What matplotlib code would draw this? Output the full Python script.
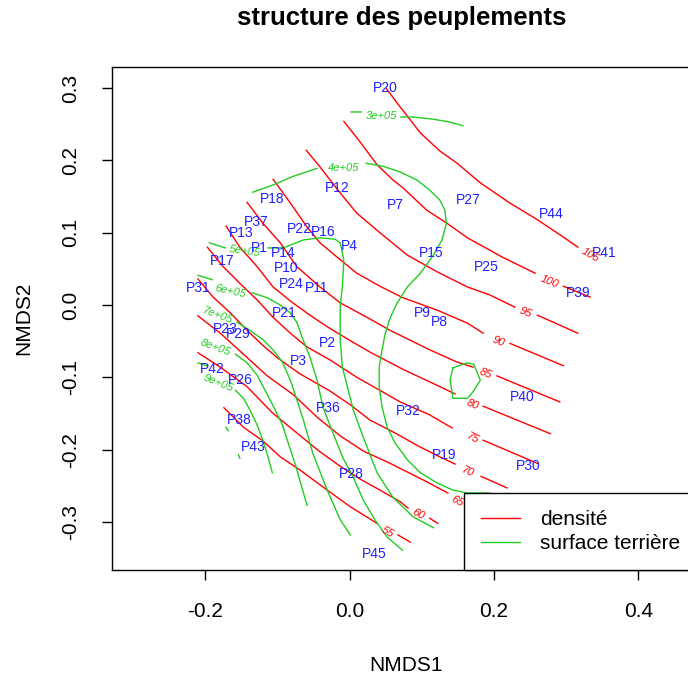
import numpy as np
import matplotlib

matplotlib.use("Agg")
import matplotlib.pyplot as plt  # noqa: E402

nan = np.nan

# site scores (NMDS1, NMDS2)
site_names = ["P20", "P12", "P7", "P27", "P44", "P18", "P37", "P13", "P22", "P16",
              "P4", "P1", "P14", "P15", "P41", "P17", "P10", "P25", "P24", "P11",
              "P31", "P39", "P9", "P8", "P21", "P23", "P29", "P2", "P3", "P42",
              "P26", "P40", "P36", "P32", "P38", "P43", "P19", "P30", "P28", "P45"]
site_x = [0.049, -0.017, 0.064, 0.165, 0.279, -0.107, -0.129, -0.150, -0.070, -0.037,
          -0.001, -0.125, -0.092, 0.113, 0.352, -0.176, -0.088, 0.190, -0.081, -0.045,
          -0.210, 0.316, 0.100, 0.125, -0.091, -0.172, -0.154, -0.031, -0.071, -0.190,
          -0.152, 0.239, -0.030, 0.081, -0.153, -0.134, 0.131, 0.247, 0.002, 0.034]
site_y = [0.300, 0.162, 0.138, 0.145, 0.126, 0.147, 0.115, 0.100, 0.105, 0.101,
          0.082, 0.079, 0.072, 0.072, 0.072, 0.061, 0.051, 0.053, 0.029, 0.024,
          0.024, 0.017, -0.011, -0.024, -0.011, -0.033, -0.040, -0.053, -0.078, -0.089,
          -0.104, -0.127, -0.142, -0.147, -0.159, -0.197, -0.207, -0.223, -0.234, -0.344]

# density contours (nan = gap left for the label)
d105_x = [0.051, 0.070, 0.098, 0.125, 0.149, 0.181, 0.222, 0.260, 0.296, 0.316]
d105_y = [0.299, 0.274, 0.238, 0.213, 0.196, 0.169, 0.141, 0.118, 0.094, 0.080]
d100_x = [-0.008, 0.015, 0.038, 0.060, 0.074, 0.107, 0.135, 0.163, 0.212, 0.257, nan, 0.296, 0.333]
d100_y = [0.254, 0.225, 0.194, 0.173, 0.162, 0.131, 0.113, 0.093, 0.066, 0.044, nan, 0.026, 0.011]
d95_x = [-0.060, -0.041, -0.013, 0.010, 0.042, 0.080, 0.121, 0.163, 0.194, 0.229, nan, 0.260, 0.316]
d95_y = [0.214, 0.191, 0.155, 0.127, 0.100, 0.069, 0.046, 0.025, 0.014, -0.003, nan, -0.014, -0.039]
d90_x = [-0.106, -0.082, -0.059, -0.041, -0.017, 0.010, 0.042, 0.074, 0.121, 0.163, 0.185, nan, 0.222, 0.296]
d90_y = [0.174, 0.141, 0.108, 0.086, 0.066, 0.044, 0.026, 0.010, -0.007, -0.025, -0.039, nan, -0.053, -0.084]
d85_x = [-0.142, -0.120, -0.096, -0.073, -0.041, -0.013, 0.024, 0.056, 0.111, 0.149, 0.171, nan, 0.204, 0.291]
d85_y = [0.142, 0.113, 0.086, 0.053, 0.025, 0.003, -0.017, -0.035, -0.062, -0.079, -0.086, nan, -0.098, -0.134]
d80_x = [-0.171, -0.152, -0.128, -0.106, -0.080, -0.055, -0.031, -0.003, 0.028, 0.074, 0.121, 0.146, nan, 0.185, 0.278]
d80_y = [0.109, 0.080, 0.053, 0.025, 0.004, -0.014, -0.030, -0.047, -0.065, -0.089, -0.111, -0.123, nan, -0.140, -0.178]
d75_x = [-0.197, -0.175, -0.152, -0.128, -0.106, -0.082, -0.059, -0.027, 0.010, 0.042, 0.070, 0.111, 0.142, nan, 0.185, 0.260]
d75_y = [0.080, 0.053, 0.030, 0.007, -0.017, -0.039, -0.058, -0.076, -0.100, -0.118, -0.134, -0.152, -0.170, nan, -0.187, -0.219]
d70_x = [-0.210, -0.189, -0.165, -0.142, -0.121, -0.100, -0.069, -0.027, 0.001, 0.028, 0.063, 0.095, 0.125, 0.146, nan, 0.182, 0.218]
d70_y = [0.036, 0.011, -0.011, -0.035, -0.055, -0.073, -0.095, -0.119, -0.138, -0.159, -0.177, -0.195, -0.210, -0.220, nan, -0.237, -0.253]
d65_x = [-0.210, -0.179, -0.147, -0.114, -0.078, -0.044, -0.013, 0.019, 0.052, 0.080, 0.104, 0.136, nan, 0.163, 0.170]
d65_y = [-0.015, -0.039, -0.068, -0.098, -0.124, -0.156, -0.181, -0.202, -0.217, -0.231, -0.243, -0.260, nan, -0.275, -0.278]
d60_x = [-0.210, -0.179, -0.142, -0.107, -0.073, -0.041, -0.013, 0.015, 0.042, 0.070, 0.081, nan, 0.111, 0.122]
d60_y = [-0.066, -0.086, -0.113, -0.149, -0.177, -0.203, -0.223, -0.241, -0.256, -0.272, -0.281, nan, -0.295, -0.302]
d55_x = [-0.174, -0.147, -0.120, -0.096, -0.069, -0.031, 0.001, 0.038, nan, 0.067, 0.084]
d55_y = [-0.142, -0.169, -0.188, -0.210, -0.228, -0.256, -0.279, -0.302, nan, -0.318, -0.328]

dens_levels = ["105", "100", "95", "90", "85", "80", "75", "70", "65", "60", "55"]
dens_lab_x = [0.333, 0.277, 0.243, 0.206, 0.188, 0.170, 0.170, 0.164, 0.149, 0.095, 0.053]
dens_lab_y = [0.069, 0.032, -0.011, -0.051, -0.095, -0.137, -0.184, -0.231, -0.271, -0.290, -0.314]
dens_lab_rot = [-30, -22, -22, -22, -22, -22, -28, -24, -28, -28, -28]

# basal area (surface terriere) contours
s3_x = [0.002, 0.016, nan, 0.071, 0.088, 0.116, 0.139, 0.157]
s3_y = [0.267, 0.267, nan, 0.260, 0.260, 0.257, 0.253, 0.248]
s4_x = [-0.134, -0.106, -0.078, -0.045, nan, 0.023, 0.046, 0.070, 0.093, 0.111, 0.125, 0.132,
        0.134, 0.128, 0.116, 0.098, 0.080, 0.066, 0.056, 0.049, 0.045, 0.041, 0.041, 0.045,
        0.052, 0.063, 0.080, 0.098, 0.121, 0.143, 0.163, 0.194]
s4_y = [0.156, 0.166, 0.178, 0.189, nan, 0.196, 0.192, 0.184, 0.173, 0.159, 0.145, 0.131,
        0.113, 0.090, 0.069, 0.044, 0.025, 0.003, -0.018, -0.041, -0.062, -0.086, -0.113, -0.141,
        -0.169, -0.191, -0.214, -0.232, -0.246, -0.256, -0.260, -0.260]
s4b_x = [0.143, 0.163, 0.172, 0.181, 0.171, 0.163, 0.143, 0.141, 0.139, 0.143]
s4b_y = [-0.087, -0.080, -0.082, -0.104, -0.120, -0.129, -0.129, -0.115, -0.104, -0.087]
s5_x = [-0.194, -0.172, nan, -0.113, -0.092, -0.064, -0.041, -0.020, -0.013, -0.008, -0.009,
        -0.010, -0.013, -0.013, -0.010, -0.003, 0.005, 0.019, 0.038, 0.060, 0.088, 0.116]
s5_y = [0.086, 0.079, nan, 0.079, 0.079, 0.090, 0.093, 0.091, 0.086, 0.062, 0.044,
        0.025, -0.003, -0.048, -0.086, -0.113, -0.145, -0.183, -0.232, -0.266, -0.293, -0.308]
s6_x = [-0.210, -0.190, nan, -0.135, -0.114, -0.096, -0.082, -0.073, -0.066, -0.055, -0.045,
        -0.037, -0.023, -0.009, 0.005, 0.019, 0.035, 0.052, 0.073]
s6_y = [0.041, 0.035, nan, 0.017, 0.010, 0.000, -0.011, -0.024, -0.044, -0.072, -0.104,
        -0.141, -0.177, -0.212, -0.238, -0.270, -0.297, -0.321, -0.339]
s7_x = [-0.156, -0.138, -0.120, -0.106, -0.093, -0.082, -0.073, -0.064, -0.051, -0.031, -0.013, 0.001]
s7_y = [-0.024, -0.035, -0.048, -0.062, -0.079, -0.104, -0.131, -0.159, -0.205, -0.256, -0.297, -0.318]
s8_x = [-0.158, -0.142, -0.128, -0.116, -0.103, -0.093, -0.084, -0.075, -0.067, -0.059]
s8_y = [-0.068, -0.080, -0.097, -0.120, -0.145, -0.166, -0.194, -0.221, -0.249, -0.277]
s9_x = [-0.210, -0.197, nan, -0.158, -0.147, -0.138, -0.128, -0.120, -0.113, -0.107]
s9_y = [-0.080, -0.084, nan, -0.118, -0.129, -0.145, -0.166, -0.187, -0.210, -0.232]
s10_x = [-0.171, -0.168, nan, -0.154, -0.152]
s10_y = [-0.169, -0.174, nan, -0.207, -0.212]

surf_levels = ["3e+05", "4e+05", "5e+05", "6e+05", "7e+05", "8e+05", "9e+05"]
surf_lab_x = [0.044, -0.008, -0.145, -0.165, -0.183, -0.186, -0.182]
surf_lab_y = [0.261, 0.189, 0.075, 0.019, -0.014, -0.059, -0.108]
surf_lab_rot = [0, 0, -8, -12, -20, -20, -22]

RED = "#FF0000"
GREEN = "#22CC22"
BLUE = "#2020FF"

plt.rcParams["font.family"] = ["Liberation Sans", "DejaVu Sans"]
plt.rcParams["axes.unicode_minus"] = False

fig = plt.figure(figsize=(6.88, 6.77), dpi=100)
ax = fig.add_axes([112 / 688, 107 / 677, 588 / 688, 503 / 677])

dens_lines = [(d105_x, d105_y), (d100_x, d100_y), (d95_x, d95_y), (d90_x, d90_y),
              (d85_x, d85_y), (d80_x, d80_y), (d75_x, d75_y), (d70_x, d70_y),
              (d65_x, d65_y), (d60_x, d60_y), (d55_x, d55_y)]
for xs, ys in dens_lines:
    ax.plot(xs, ys, color=RED, linewidth=1.0)
for lab, lx, ly, rot in zip(dens_levels, dens_lab_x, dens_lab_y, dens_lab_rot):
    ax.text(lx, ly, lab, color=RED, fontsize=8, style="italic", rotation=rot,
            ha="center", va="center", rotation_mode="anchor")

surf_lines = [(s3_x, s3_y), (s4_x, s4_y), (s4b_x, s4b_y), (s5_x, s5_y), (s6_x, s6_y),
              (s7_x, s7_y), (s8_x, s8_y), (s9_x, s9_y), (s10_x, s10_y)]
for xs, ys in surf_lines:
    ax.plot(xs, ys, color=GREEN, linewidth=1.0)
for lab, lx, ly, rot in zip(surf_levels, surf_lab_x, surf_lab_y, surf_lab_rot):
    ax.text(lx, ly, lab, color=GREEN, fontsize=8, style="italic", rotation=rot,
            ha="center", va="center", rotation_mode="anchor")

for name, sx, sy in zip(site_names, site_x, site_y):
    ax.text(sx, sy, name, color=BLUE, fontsize=10, ha="center", va="center")

ax.set_xlim(-0.3290, 0.4852)
ax.set_ylim(-0.3665, 0.3292)
ax.set_xticks([-0.2, 0.0, 0.2, 0.4])
ax.set_xticklabels(["-0.2", "0.0", "0.2", "0.4"])
ax.set_yticks([-0.3, -0.2, -0.1, 0.0, 0.1, 0.2, 0.3])
ax.set_yticklabels(["-0.3", "-0.2", "-0.1", "0.0", "0.1", "0.2", "0.3"])
ax.tick_params(length=7, width=1, labelsize=15, pad=16)
for lbl in ax.get_yticklabels():
    lbl.set_rotation(90)
    lbl.set_va("center")
for sp in ax.spines.values():
    sp.set_linewidth(1.0)

ax.set_xlabel("NMDS1", fontsize=15, labelpad=25)
ax.set_ylabel("NMDS2", fontsize=15, labelpad=20)
fig.text(402 / 688, 1 - 18 / 677, "structure des peuplements", fontsize=18.5,
         fontweight="bold", ha="center", va="center")

handles = [plt.Line2D([], [], color=RED, linewidth=1.0),
           plt.Line2D([], [], color=GREEN, linewidth=1.0)]
leg = ax.legend(handles, ["densité", "surface terrière"], loc="lower left",
                bbox_to_anchor=(352 / 588, 0, 236 / 588, 0.155), mode="expand",
                borderaxespad=0, fontsize=15, frameon=True, fancybox=False,
                edgecolor="black", framealpha=1, borderpad=0.8, labelspacing=0.25,
                handlelength=1.9, handletextpad=0.96)
leg.get_frame().set_linewidth(1.0)

fig.savefig("out.png", dpi=100)
